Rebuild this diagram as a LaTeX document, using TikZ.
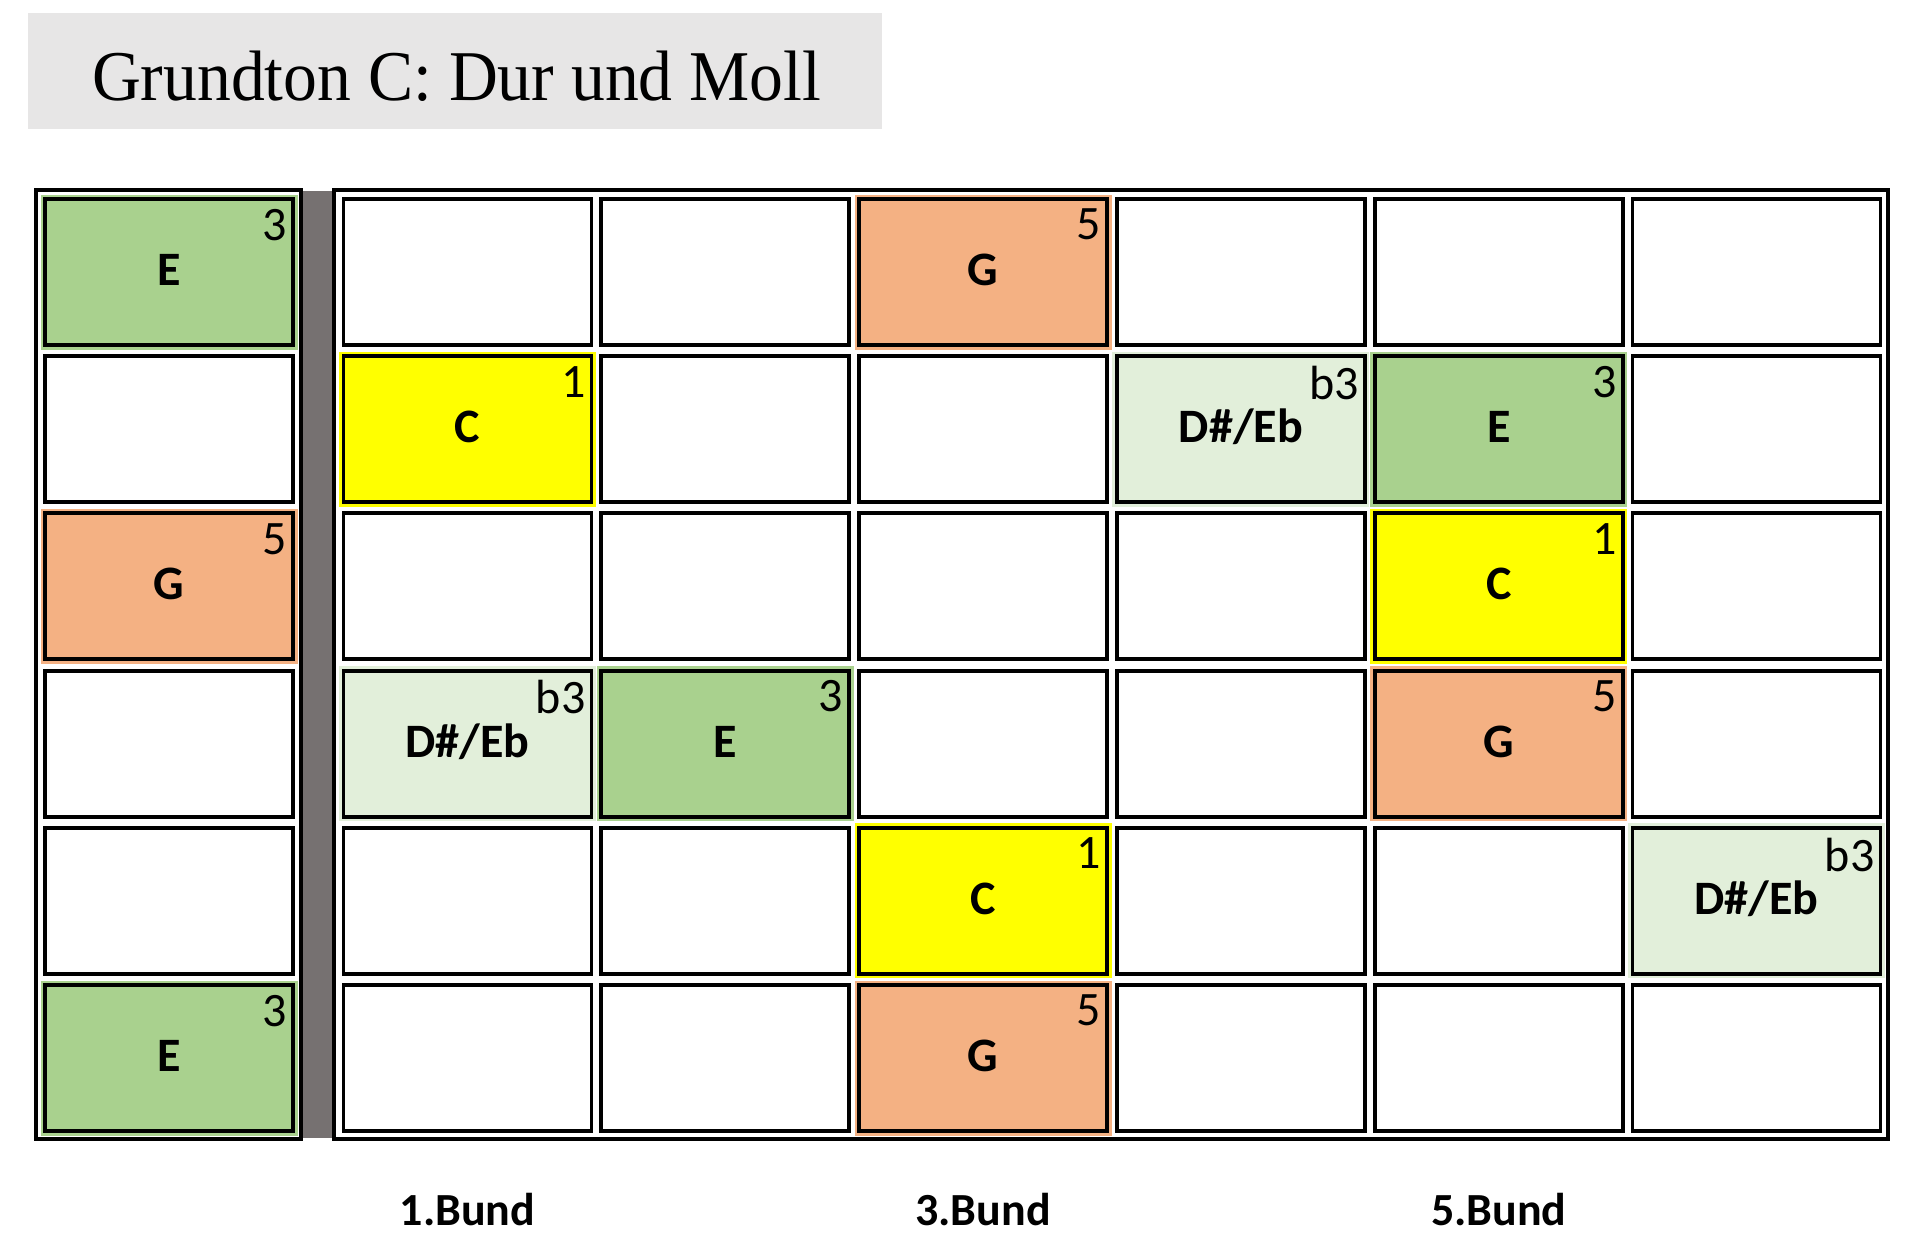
\documentclass[tikz,border=0pt]{standalone}
\usepackage{fontspec}
\newfontfamily\calib{Carlito}
\newfontfamily\tms{Liberation Serif}
\definecolor{cE}{HTML}{A9D18E}
\definecolor{cG}{HTML}{F4B183}
\definecolor{cC}{HTML}{FFFF00}
\definecolor{cD}{HTML}{E2EFDA}
\definecolor{titlebg}{HTML}{E7E6E6}
\definecolor{nutgray}{HTML}{767171}
\tikzset{
  frame/.style={draw=black, line width=2pt},
  cell/.style={draw=black, line width=1.95pt, minimum width=124pt, minimum height=73pt,
    inner sep=0pt, outer sep=0pt, font=\calib\bfseries\fontsize{24}{24}\selectfont,
    text height=15.5pt, text depth=0pt},
  fillc/.style={fill=#1, preaction={draw=#1, line width=4.5pt}},
  num/.style={anchor=north east, inner sep=0pt, outer sep=0pt, font=\calib\fontsize{24}{24}\selectfont},
  bund/.style={inner sep=0pt, outer sep=0pt, font=\calib\bfseries\fontsize{23}{23}\selectfont,
    text height=14.8pt, text depth=0pt},
  titletext/.style={inner sep=0pt, outer sep=0pt, font=\tms\fontsize{34}{34}\selectfont}
}
\begin{document}
\begin{tikzpicture}[x=0.5pt,y=-0.5pt]
\useasboundingbox (0,0) rectangle (1920,1255);
% title
\fill[titlebg] (28,13) rectangle (882,129);
\node[titletext, anchor=base west] (title) at (92,100) {\scalebox{0.995}[1.05]{Grundton C: Dur und Moll}};
% nut and frames
\fill[nutgray] (303,191) rectangle (333,1138);
\draw[frame] (36,190) rectangle (301,1139);
\draw[frame] (334,190) rectangle (1888,1139);
% open strings column
\foreach \r in {1,3,4}
  \node[cell] (l-\r) at (169,{272+157.2*\r}) {};
\foreach \r/\col/\nt/\nm in {0/cE/E/3, 2/cG/G/5, 5/cE/E/3}{
  \node[cell, fillc=\col] (l-\r) at (169,{272+157.2*\r}) {\raisebox{1pt}{\nt}};
  \node[num] (ln-\r) at ([xshift=-3pt,yshift=-5pt]l-\r.north east) {\nm};
}
% fretboard
\foreach \r/\c in {0/0,0/1,0/3,0/4,0/5, 1/1,1/2,1/5, 2/0,2/1,2/2,2/3,2/5, 3/2,3/3,3/5, 4/0,4/1,4/3,4/4, 5/0,5/1,5/3,5/4,5/5}
  \node[cell] (m-\r-\c) at ({467.5+257.8*\c},{272+157.2*\r}) {};
\foreach \r/\c/\col/\nt/\nm in {0/2/cG/G/5, 1/0/cC/C/1, 1/3/cD/{D\#/Eb}/b3, 1/4/cE/E/3,
    2/4/cC/C/1, 3/0/cD/{D\#/Eb}/b3, 3/1/cE/E/3, 3/4/cG/G/5, 4/2/cC/C/1, 4/5/cD/{D\#/Eb}/b3, 5/2/cG/G/5}{
  \node[cell, fillc=\col] (m-\r-\c) at ({467.5+257.8*\c},{272+157.2*\r}) {\raisebox{1pt}{\nt}};
  \node[num] (mn-\r-\c) at ([xshift=-3pt,yshift=-5pt]m-\r-\c.north east) {\nm};
}
% fret labels
\node[bund] (b1) at (467.5,1211) {1.Bund};
\node[bund] (b3) at (983.1,1211) {3.Bund};
\node[bund] (b5) at (1498.7,1211) {5.Bund};
\end{tikzpicture}
\end{document}
